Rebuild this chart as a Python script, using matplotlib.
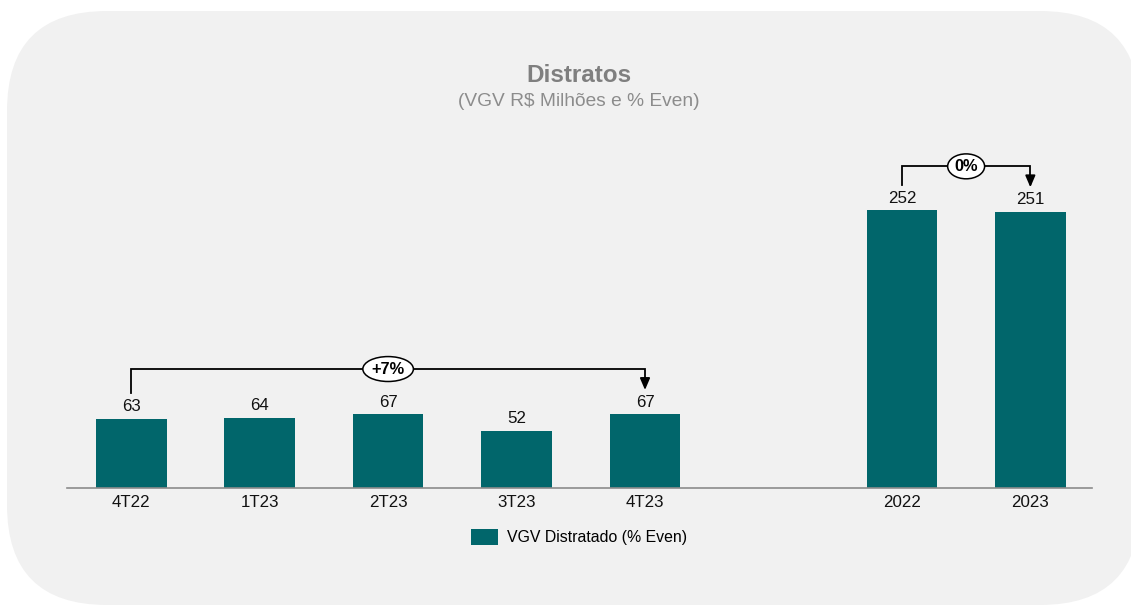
import numpy as np
import matplotlib.pyplot as plt
from matplotlib.patches import FancyBboxPatch

# data
categories = ['4T22', '1T23', '2T23', '3T23', '4T23', '2022', '2023']
positions = [0, 1, 2, 3, 4, 6, 7]
values = [63, 64, 67, 52, 67, 252, 251]
quarter_change = '+7%'
year_change = '0%'
legend_label = 'VGV Distratado (% Even)'

bar_color = '#01666B'
W, H = 1131, 607

plt.rcParams['font.family'] = ['Liberation Sans', 'DejaVu Sans']

fig = plt.figure(figsize=(W / 100, H / 100), dpi=100)
fig.patch.set_facecolor('white')

# background axes in pixel units, for the rounded panel
bgax = fig.add_axes([0, 0, 1, 1], zorder=-1)
bgax.set_xlim(0, W)
bgax.set_ylim(H, 0)
bgax.axis('off')
bgax.add_patch(FancyBboxPatch((7, 11), 1140 - 7, 605 - 11,
                              boxstyle='round,pad=0,rounding_size=100',
                              facecolor='#f1f1f1', edgecolor='none'))

fig.text(579 / W, 1 - 76 / H, 'Distratos', ha='center', va='center',
         fontsize=17.5, fontweight='bold', color='#7f7f7f')
fig.text(579 / W, 1 - 102 / H, '(VGV R$ Milhões e % Even)', ha='center', va='center',
         fontsize=13.8, color='#8c8c8c')

ax = fig.add_axes([67 / W, (H - 488) / H, (1092 - 67) / W, 358 / H], zorder=1)
ax.set_facecolor('none')
ax.set_xlim(-0.5, 7.48)
ax.set_ylim(0, 325)

bars = ax.bar(positions, values, width=0.55, color=bar_color, label=legend_label, zorder=2)
for p, v in zip(positions, values):
    ax.text(p, v + 4, str(v), ha='center', va='bottom', fontsize=12.2, color='#111111')

for s in ['top', 'right', 'left']:
    ax.spines[s].set_visible(False)
ax.spines['bottom'].set_color('#8c8c8c')
ax.spines['bottom'].set_linewidth(1.2)
ax.set_yticks([])
ax.set_xticks(positions)
ax.set_xticklabels(categories, fontsize=12.2, color='#111111')
ax.tick_params(axis='x', length=0, pad=5)


def bracket(i0, i1, label, lift):
    x0, x1 = positions[i0], positions[i1]
    v0, v1 = values[i0], values[i1]
    top = max(v0, v1) + lift
    ax.plot([x0, x0, x1, x1], [v0 + 23, top, top, v1 + 28], color='black', lw=1.3,
            solid_joinstyle='miter', zorder=3)
    ax.annotate('', xy=(x1, v1 + 22), xytext=(x1, v1 + 29),
                arrowprops=dict(arrowstyle='-|>,head_width=0.3,head_length=0.7',
                                color='black', lw=1.3, shrinkA=0, shrinkB=0), zorder=3)
    ax.text((x0 + x1) / 2, top, label, ha='center', va='center', fontsize=11.8,
            fontweight='bold', zorder=4,
            bbox=dict(boxstyle='ellipse,pad=0.08', facecolor='white',
                      edgecolor='black', lw=1.1))


bracket(0, 4, quarter_change, 41)
bracket(5, 6, year_change, 40)

fig.legend(handles=[bars], labels=[legend_label], loc='center',
           bbox_to_anchor=(579 / W, 1 - 537 / H), frameon=False, fontsize=11.4,
           handlelength=1.7, handleheight=1.2, handletextpad=0.6)

fig.savefig('out.png', dpi=100)
